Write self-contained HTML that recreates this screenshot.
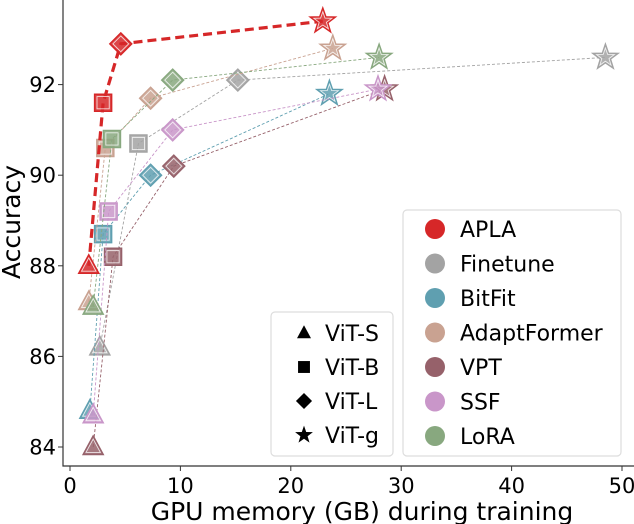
<!DOCTYPE html>
<html><head><meta charset="utf-8"><style>
body{margin:0;background:#fff}
svg{display:block;font-family:"DejaVu Sans","Liberation Sans",sans-serif}
</style></head><body>
<svg id="chart" width="634" height="524" viewBox="0 0 634 524"></svg>
<script>
const methods=["APLA","Finetune","BitFit","AdaptFormer","VPT","SSF","LoRA"];
const colors=["#d62728","#a3a3a3","#5f9fb0","#c9a291","#96616a","#c996c9","#88a87f"];
const models=["ViT-S","ViT-B","ViT-L","ViT-g"];
const memAPLA=[1.7,3.0,4.6,22.9], accAPLA=[88.0,91.6,92.9,93.4];
const memFinetune=[2.7,6.2,15.2,48.5], accFinetune=[86.2,90.7,92.1,92.6];
const memBitFit=[1.8,3.0,7.3,23.5], accBitFit=[84.8,88.7,90.0,91.8];
const memAdaptFormer=[1.7,3.2,7.3,23.8], accAdaptFormer=[87.2,90.6,91.7,92.8];
const memVPT=[2.1,3.9,9.4,28.5], accVPT=[84.0,88.2,90.2,91.9];
const memSSF=[2.1,3.5,9.3,27.9], accSSF=[84.7,89.2,91.0,91.9];
const memLoRA=[2.1,3.8,9.3,28.0], accLoRA=[87.1,90.8,92.1,92.6];
const xTicks=[0,10,20,30,40,50];
const yTicks=[84,86,88,90,92];

const mems=[memAPLA,memFinetune,memBitFit,memAdaptFormer,memVPT,memSSF,memLoRA];
const accs=[accAPLA,accFinetune,accBitFit,accAdaptFormer,accVPT,accSSF,accLoRA];
const NS="http://www.w3.org/2000/svg";
const svg=document.getElementById('chart');
const X=v=>70+v*11.04;
const Y=v=>447-(v-84)*45.3;
function mk(tag,attrs,parent){const e=document.createElementNS(NS,tag);for(const k in attrs)e.setAttribute(k,attrs[k]);(parent||svg).appendChild(e);return e;}
function shape(type,cx,cy,s){
  if(type===0){return `M${cx},${cy-s*1.1} L${cx+s},${cy+s*0.75} L${cx-s},${cy+s*0.75}Z`;}
  if(type===1){return `M${cx-s*0.85},${cy-s*0.85}h${s*1.7}v${s*1.7}h${-s*1.7}Z`;}
  if(type===2){return `M${cx},${cy-s*1.15}L${cx+s*1.15},${cy}L${cx},${cy+s*1.15}L${cx-s*1.15},${cy}Z`;}
  let d="";for(let i=0;i<10;i++){const r=i%2?s*0.5:s*1.25;const a=-Math.PI/2+i*Math.PI/5;d+=(i?"L":"M")+(cx+r*Math.cos(a)).toFixed(1)+","+(cy+r*Math.sin(a)).toFixed(1);}return d+"Z";
}
const ax=mk('path',{d:'M63,0 V466 H634',fill:'none',stroke:'#333','stroke-width':1.2});


xTicks.forEach(t=>{
  const l=mk('line',{x1:X(t),x2:X(t),y1:466,y2:471,stroke:'#333'});
  
  
  const tx=mk('text',{x:X(t),y:493,'text-anchor':'middle','font-size':21,fill:'#000'});tx.textContent=t;
  
  
});
yTicks.forEach(t=>{
  const l=mk('line',{x1:58,x2:63,y1:Y(t),y2:Y(t),stroke:'#333'});
  
  
  const tx=mk('text',{x:56,y:Y(t)+7.5,'text-anchor':'end','font-size':21,fill:'#000'});tx.textContent=t;
  
  
});
const xl=mk('text',{x:362,y:520,'text-anchor':'middle','font-size':25,fill:'#000'});xl.textContent='GPU memory (GB) during training';


const yl=mk('text',{x:0,y:0,'text-anchor':'middle','font-size':25,fill:'#000',transform:'translate(20,222) rotate(-90)'});yl.textContent='Accuracy';


const order=[1,2,3,4,5,6,0];
order.forEach(i=>{
  const g=mk('g',{});
  
  
  const pts=mems[i].map((m,j)=>X(m)+','+Y(accs[i][j])).join(' ');
  const pl=mk('polyline',{points:pts,fill:'none',stroke:colors[i],'stroke-width':i===0?3.2:0.9,'stroke-dasharray':i===0?'9,5':'3,2'},g);
  
  
  mems[i].forEach((m,j)=>{
    const cx=X(m),cy=Y(accs[i][j]);const s=j===3?10.5:j===2?9.5:10;
    const p=mk('path',{d:shape(j,cx,cy,s),fill:colors[i],'fill-opacity':0.85,stroke:colors[i],'stroke-width':1.5},g);
    
    
    mk('path',{d:shape(j,cx,cy,s*0.72),fill:'none',stroke:'#fff','stroke-width':0.9,'stroke-opacity':0.8},g);
  });
});
const lg1=mk('g',{});


mk('rect',{x:271,y:312,width:122,height:144,rx:4,fill:'#fff','fill-opacity':0.85,stroke:'#ddd','stroke-width':1.2},lg1);
models.forEach((m,j)=>{
  const cy=333+j*34;
  mk('path',{d:shape(j,304,cy,j===3?7.5:7),fill:'#000'},lg1);
  const t=mk('text',{x:325,y:cy+8,'font-size':22,fill:'#000'},lg1);t.textContent=m;
  
  
});
const lg2=mk('g',{});


mk('rect',{x:403,y:210,width:218,height:246,rx:4,fill:'#fff','fill-opacity':0.85,stroke:'#ddd','stroke-width':1.2},lg2);
methods.forEach((m,i)=>{
  const cy=229+i*34.5;
  mk('circle',{cx:435,cy:cy,r:10,fill:colors[i]},lg2);
  const t=mk('text',{x:460,y:cy+8,'font-size':22,fill:'#000'},lg2);t.textContent=m;
  
  
});
</script>
</body></html>
